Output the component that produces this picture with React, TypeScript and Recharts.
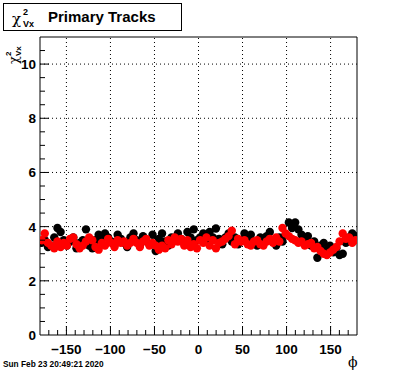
import React from 'react'
import {
  ScatterChart,
  Scatter,
  XAxis,
  YAxis,
  ReferenceLine,
} from 'recharts'

// phi bin centres (100 bins over -180..180)
const phi = [
  -178.2, -174.6, -171.0, -167.4, -163.8, -160.2, -156.6, -153.0, -149.4, -145.8,
  -142.2, -138.6, -135.0, -131.4, -127.8, -124.2, -120.6, -117.0, -113.4, -109.8,
  -106.2, -102.6, -99.0, -95.4, -91.8, -88.2, -84.6, -81.0, -77.4, -73.8,
  -70.2, -66.6, -63.0, -59.4, -55.8, -52.2, -48.6, -45.0, -41.4, -37.8,
  -34.2, -30.6, -27.0, -23.4, -19.8, -16.2, -12.6, -9.0, -5.4, -1.8,
  1.8, 5.4, 9.0, 12.6, 16.2, 19.8, 23.4, 27.0, 30.6, 34.2,
  37.8, 41.4, 45.0, 48.6, 52.2, 55.8, 59.4, 63.0, 66.6, 70.2,
  73.8, 77.4, 81.0, 84.6, 88.2, 91.8, 95.4, 99.0, 102.6, 106.2,
  109.8, 113.4, 117.0, 120.6, 124.2, 127.8, 131.4, 135.0, 138.6, 142.2,
  145.8, 149.4, 153.0, 156.6, 160.2, 163.8, 167.4, 171.0, 174.6, 178.2,
]

const chi2Black = [
  3.4, 3.5, 3.25, 3.3, 3.6, 3.95, 3.8, 3.5, 3.3, 3.45,
  3.6, 3.2, 3.4, 3.5, 3.9, 3.3, 3.2, 3.5, 3.7, 3.55,
  3.75, 3.6, 3.45, 3.3, 3.7, 3.55, 3.4, 3.25, 3.6, 3.75,
  3.5, 3.3, 3.65, 3.5, 3.35, 3.7, 3.1, 3.55, 3.75, 3.45,
  3.3, 3.6, 3.5, 3.75, 3.55, 3.4, 3.8, 3.6, 3.9, 3.5,
  3.6, 3.75, 3.45, 3.8, 3.6, 3.93, 3.55, 3.35, 3.6, 3.75,
  3.45, 3.6, 3.35, 3.5, 3.75, 3.55, 3.7, 3.4, 3.3, 3.6,
  3.45, 3.65, 3.8, 3.5, 3.3, 3.6, 3.45, 3.7, 4.15, 3.95,
  4.15, 3.9, 3.7, 3.5, 3.65, 3.3, 3.45, 2.85, 3.3, 3.4,
  3.15, 3.3, 3.05, 3.2, 2.95, 3.0, 3.4, 3.6, 3.75, 3.65,
]

const chi2Red = [
  3.5, 3.75, 3.4, 3.3, 3.2, 3.45, 3.25, 3.4, 3.3, 3.55,
  3.6, 3.35, 3.2, 3.3, 3.45, 3.6, 3.5, 3.25, 3.15, 3.4,
  3.3, 3.55, 3.4, 3.25, 3.5, 3.4, 3.45, 3.3, 3.4, 3.55,
  3.4, 3.25, 3.45, 3.55, 3.3, 3.4, 3.3, 3.15, 3.3, 3.2,
  3.5, 3.35, 3.6, 3.45, 3.55, 3.3, 3.5, 3.25, 3.35, 3.2,
  3.5, 3.4, 3.6, 3.3, 3.5, 3.2, 3.4, 3.45, 3.55, 3.65,
  3.85, 3.35, 3.55, 3.45, 3.5, 3.35, 3.3, 3.45, 3.5, 3.35,
  3.3, 3.45, 3.55, 3.4, 3.6, 3.45, 3.95, 3.75, 3.65, 3.55,
  3.5, 3.4, 3.45, 3.3, 3.35, 3.4, 3.2, 3.25, 3.1, 3.0,
  2.95, 3.05, 3.15, 3.25, 3.45, 3.75, 3.55, 3.6, 3.4, 3.5,
]

const xTicks = [
  -180, -170, -160, -150, -140, -130, -120, -110, -100, -90, -80, -70, -60, -50, -40, -30, -20, -10,
  0, 10, 20, 30, 40, 50, 60, 70, 80, 90, 100, 110, 120, 130, 140, 150, 160, 170, 180,
]
const xLabels = [-150, -100, -50, 0, 50, 100, 150]
const yTicks = [
  0, 0.5, 1, 1.5, 2, 2.5, 3, 3.5, 4, 4.5, 5, 5.5, 6, 6.5, 7, 7.5, 8, 8.5, 9, 9.5, 10, 10.5, 11,
]
const yLabels = [0, 2, 4, 6, 8, 10]

const blackData = phi.map((x, i) => ({ x, y: chi2Black[i] }))
const redData = phi.map((x, i) => ({ x, y: chi2Red[i] }))

const FONT = '"Liberation Sans", Arial, sans-serif'

const XTick = (props: any) => {
  const { x, y, payload } = props
  const v = payload.value
  if (v === -180 || v === 180) return <g />
  const major = xLabels.includes(v)
  return (
    <g>
      <line x1={x} y1={y} x2={x} y2={y - (major ? 9 : 5)} stroke="#000" />
      {major && (
        <text x={x} y={y + 19} textAnchor="middle" fontFamily={FONT} fontWeight="bold" fontSize={13.5} fill="#000">
          {v < 0 ? '\u2212' + Math.abs(v) : v}
        </text>
      )}
    </g>
  )
}

const YTick = (props: any) => {
  const { x, y, payload } = props
  const v = payload.value
  if (v === 11) return <g />
  const major = yLabels.includes(v)
  return (
    <g>
      {v !== 0 && <line x1={x} y1={y} x2={x + (major ? 9 : 5)} y2={y} stroke="#000" />}
      {major && (
        <text x={x - 4} y={y + 5} textAnchor="end" fontFamily={FONT} fontWeight="bold" fontSize={13.5} fill="#000">
          {v}
        </text>
      )}
    </g>
  )
}

const dot = (color: string) => (props: any) => (
  <circle cx={props.cx} cy={props.cy} r={4.2} fill={color} />
)

export default function App() {
  return (
    <div style={{ position: 'absolute', left: 0, top: 0, width: 396, height: 372, background: '#fff' }}>
      <style>{'body{margin:0}'}</style>
      <ScatterChart width={396} height={372} margin={{ top: 37, right: 39, left: 0, bottom: 7 }}>
        <XAxis
          type="number"
          dataKey="x"
          domain={[-180, 180]}
          ticks={xTicks}
          interval={0}
          height={30}
          tickSize={0}
          tickMargin={0}
          tickLine={false}
          tick={<XTick />}
          axisLine={{ stroke: '#000' }}
          allowDataOverflow
        />
        <YAxis
          type="number"
          dataKey="y"
          domain={[0, 11]}
          ticks={yTicks}
          interval={0}
          width={40}
          tickSize={0}
          tickMargin={0}
          tickLine={false}
          tick={<YTick />}
          axisLine={{ stroke: '#000' }}
          allowDataOverflow
        />
        {xLabels.map((v) => (
          <ReferenceLine key={'gx' + v} x={v} stroke="#000" strokeDasharray="1 3" />
        ))}
        {yLabels.filter((v) => v > 0).map((v) => (
          <ReferenceLine key={'gy' + v} y={v} stroke="#000" strokeDasharray="1 3" />
        ))}
        <ReferenceLine x={180} stroke="#000" />
        <ReferenceLine y={11} stroke="#000" />
        <Scatter data={blackData} shape={dot('#000')} isAnimationActive={false} />
        <Scatter data={redData} shape={dot('#ff0000')} isAnimationActive={false} />
      </ScatterChart>
      <svg width={396} height={372} style={{ position: 'absolute', left: 0, top: 0, pointerEvents: 'none' }}>
        <rect x={3.5} y={3.5} width={178} height={27} fill="#fff" stroke="#000" />
        <text x={12} y={24} fontFamily='"DejaVu Serif", serif' fontSize={15} fill="#000">χ</text>
        <text x={23} y={15} fontFamily={FONT} fontWeight="bold" fontSize={9} fill="#000">2</text>
        <text x={23} y={27} fontFamily={FONT} fontWeight="bold" fontSize={9} fill="#000">Vx</text>
        <text x={48} y={22} fontFamily={FONT} fontWeight="bold" fontSize={15} fill="#000">Primary Tracks</text>
        <g transform="translate(18,64) rotate(-90)">
          <text x={0} y={0} fontFamily='"DejaVu Serif", serif' fontSize={13} fill="#000">χ</text>
          <text x={8} y={-7} fontFamily={FONT} fontWeight="bold" fontSize={8} fill="#000">2</text>
          <text x={8} y={3} fontFamily={FONT} fontWeight="bold" fontSize={8} fill="#000">Vx</text>
        </g>
        <text x={3} y={367} fontFamily={FONT} fontWeight="bold" fontSize={8.3} fill="#000">Sun Feb 23 20:49:21 2020</text>
        <text x={348} y={367} fontFamily='"DejaVu Serif", serif' fontSize={14} fill="#000">ϕ</text>
      </svg>
    </div>
  )
}
